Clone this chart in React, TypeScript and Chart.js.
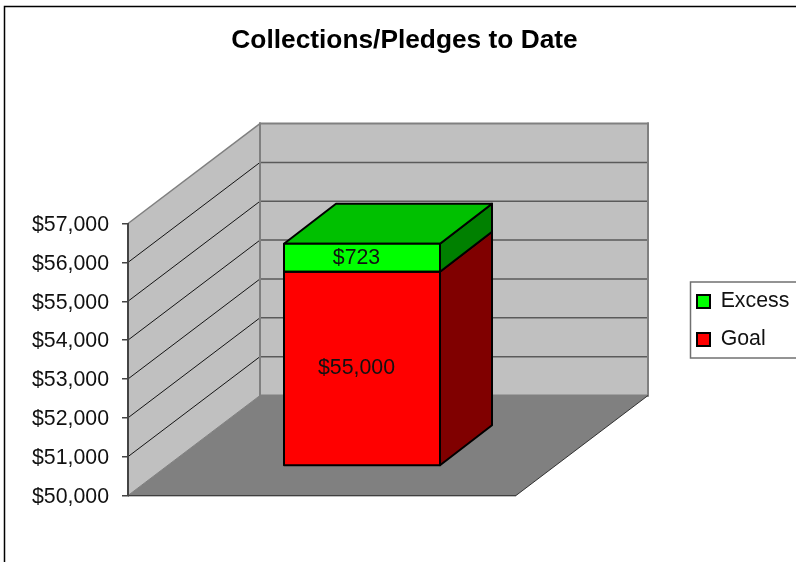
import React, { useEffect, useRef } from "react";
import { Chart, registerables } from "chart.js";

Chart.register(...registerables);

const categories = ["Collections"];
const goalValues = [55000];
const excessValues = [723];
const axisMin = 50000;
const axisMax = 57000;
const axisStep = 1000;
const titleText = "Collections/Pledges to Date";

const FONT = "'Liberation Sans', Arial, sans-serif";
const WALL = { dx: 132, dy: -100 };
const BAR_OFFSET = { dx: 40, dy: -29.5 };
const BAR_DEPTH = { dx: 52, dy: -40 };

const money = (v: number) => "$" + Number(v).toLocaleString("en-US");

function poly(ctx: CanvasRenderingContext2D, pts: number[][], fill: string | null, stroke: string | null, lw = 1) {
  ctx.beginPath();
  pts.forEach((p, i) => (i ? ctx.lineTo(p[0], p[1]) : ctx.moveTo(p[0], p[1])));
  ctx.closePath();
  if (fill) {
    ctx.fillStyle = fill;
    ctx.fill();
  }
  if (stroke) {
    ctx.strokeStyle = stroke;
    ctx.lineWidth = lw;
    ctx.lineJoin = "round";
    ctx.stroke();
  }
}

function line(ctx: CanvasRenderingContext2D, x1: number, y1: number, x2: number, y2: number, color: string, lw: number) {
  ctx.beginPath();
  ctx.moveTo(x1, y1);
  ctx.lineTo(x2, y2);
  ctx.strokeStyle = color;
  ctx.lineWidth = lw;
  ctx.stroke();
}

const scene3d = {
  id: "scene3d",
  afterLayout(chart: any) {
    const lg = chart.legend;
    if (lg) {
      lg.left = 680.3;
      lg.right = 796;
      lg.top = 223;
      lg.bottom = 418;
    }
  },
  beforeDraw(chart: any) {
    const { ctx, chartArea: a, scales } = chart;
    const y = scales.y;
    ctx.save();
    ctx.fillStyle = "#fff";
    ctx.fillRect(0, 0, chart.width, chart.height);
    // outer frame
    ctx.strokeStyle = "#000";
    ctx.lineWidth = 1.5;
    ctx.beginPath();
    ctx.moveTo(4.5, 562);
    ctx.lineTo(4.5, 6.5);
    ctx.lineTo(796, 6.5);
    ctx.stroke();
    // legend frame
    ctx.strokeStyle = "#707070";
    ctx.lineWidth = 1.5;
    ctx.strokeRect(690.5, 282, 110, 76);

    const { left: L, right: R, top: T, bottom: B } = a;
    const { dx, dy } = WALL;
    // back wall + side wall + floor
    poly(ctx, [[L + dx, T + dy], [R + dx, T + dy], [R + dx, B + dy], [L + dx, B + dy]], "#c0c0c0", null);
    poly(ctx, [[L, T], [L + dx, T + dy], [L + dx, B + dy], [L, B]], "#c0c0c0", null);
    poly(ctx, [[L, B], [L + dx, B + dy], [R + dx, B + dy], [R, B]], "#808080", null);
    // gridlines on the walls
    y.ticks.forEach((t: any) => {
      const py = y.getPixelForValue(t.value);
      if (t.value === axisMin || t.value === axisMax) return;
      line(ctx, L, py, L + dx, py + dy, "#000", 0.9);
      line(ctx, L + dx, py + dy, R + dx, py + dy, "#5a5a5a", 1.5);
    });
    // wall edges
    ctx.lineCap = "square";
    line(ctx, L, T, L + dx, T + dy, "#808080", 1.5);
    line(ctx, L + dx, T + dy, R + dx, T + dy, "#808080", 2);
    line(ctx, R + dx, T + dy, R + dx, B + dy, "#808080", 2);
    line(ctx, L + dx, T + dy, L + dx, B + dy, "#808080", 2);
    line(ctx, L + dx, B + dy, R + dx, B + dy, "#808080", 2);
    ctx.lineCap = "butt";
    line(ctx, L, B, L + dx, B + dy, "#808080", 1);
    // floor front edges
    line(ctx, L, B + 0.6, R, B + 0.6, "#aaa", 1.5);
    line(ctx, L, B, R, B, "#222", 0.8);
    line(ctx, R, B, R + dx, B + dy, "#222", 0.9);
    ctx.restore();
  },
  beforeDatasetsDraw(chart: any) {
    const { ctx } = chart;
    const goal = chart.getDatasetMeta(0).data[0];
    const excess = chart.getDatasetMeta(1).data[0];
    const ox = BAR_OFFSET.dx;
    const oy = BAR_OFFSET.dy;
    const { dx, dy } = BAR_DEPTH;
    const xL = goal.x - goal.width / 2 + ox;
    const xR = goal.x + goal.width / 2 + ox;
    const yB = goal.base + oy;
    const yM = goal.y + oy;
    const yT = excess.y + oy;
    poly(ctx, [[xR, yM], [xR + dx, yM + dy], [xR + dx, yB + dy], [xR, yB]], "#800000", "#000", 2);
    poly(ctx, [[xR, yT], [xR + dx, yT + dy], [xR + dx, yM + dy], [xR, yM]], "#008000", "#000", 2);
    poly(ctx, [[xL, yT], [xL + dx, yT + dy], [xR + dx, yT + dy], [xR, yT]], "#00c000", "#000", 2);
    ctx.save();
    ctx.translate(ox, oy);
  },
  afterDatasetsDraw(chart: any) {
    const { ctx } = chart;
    ctx.restore();
    ctx.save();
    // front-face outlines, centred on the bar edges
    chart.data.datasets.forEach((_: any, i: number) => {
      const el = chart.getDatasetMeta(i).data[0];
      ctx.strokeStyle = "#000";
      ctx.lineWidth = 2;
      ctx.strokeRect(
        el.x - el.width / 2 + BAR_OFFSET.dx,
        el.y + BAR_OFFSET.dy,
        el.width,
        el.base - el.y
      );
    });
    ctx.fillStyle = "#111";
    ctx.font = `21.3px ${FONT}`;
    ctx.textAlign = "center";
    ctx.textBaseline = "middle";
    chart.data.datasets.forEach((ds: any, i: number) => {
      const el = chart.getDatasetMeta(i).data[0];
      ctx.fillText(money(ds.data[0]), el.x + BAR_OFFSET.dx - 5.5, (el.y + el.base) / 2 + BAR_OFFSET.dy);
    });
    ctx.restore();
  },
};

export default function App() {
  const ref = useRef<HTMLCanvasElement>(null);
  useEffect(() => {
    const chart = new Chart(ref.current as HTMLCanvasElement, {
      type: "bar",
      data: {
        labels: categories,
        datasets: [
          {
            label: "Goal",
            data: goalValues,
            base: axisMin,
            backgroundColor: "#ff0000",
            borderWidth: 0,
            barThickness: 156,
            clip: false,
          },
          {
            label: "Excess",
            data: excessValues,
            backgroundColor: "#00ff00",
            borderWidth: 0,
            barThickness: 156,
            clip: false,
          },
        ],
      } as any,
      options: {
        responsive: false,
        animation: false,
        devicePixelRatio: 1,
        layout: { padding: { left: 13, right: 0, top: 0, bottom: 66.5 } },
        plugins: {
          tooltip: { enabled: false },
          title: {
            display: true,
            text: titleText,
            color: "#000",
            font: { family: FONT, size: 26.3, weight: "bold" },
            padding: { top: 25, bottom: 167 },
          },
          legend: {
            display: true,
            position: "right",
            reverse: true,
            labels: {
              color: "#111",
              font: { family: FONT, size: 21.3 },
              boxWidth: 13,
              boxHeight: 13,
              padding: 16.7,
              generateLabels: (c: any) =>
                (Chart.defaults.plugins.legend.labels as any)
                  .generateLabels(c)
                  .map((it: any) => ({ ...it, strokeStyle: "#000", lineWidth: 2 })),
            },
          },
        },
        scales: {
          x: { type: "category", display: false, stacked: true, offset: true, grid: { display: false } },
          y: {
            type: "linear",
            position: "left",
            stacked: true,
            min: axisMin,
            max: axisMax,
            ticks: {
              stepSize: axisStep,
              color: "#111",
              padding: 13,
              labelOffset: 1.5,
              font: { family: FONT, size: 21.3 },
              callback: (v: any) => money(v),
            },
            grid: { drawOnChartArea: false, drawTicks: true, tickLength: 6, color: "#444", lineWidth: 1.5 },
            border: { display: true, color: "#444", width: 2 },
            afterFit: (s: any) => {
              s.width = 115;
            },
          },
          spacer: {
            type: "linear",
            position: "right",
            display: true,
            ticks: { display: false },
            grid: { display: false },
            border: { display: false },
            afterFit: (s: any) => {
              s.width = 280 - (s.chart.legend ? s.chart.legend.width : 0);
            },
          },
        },
      } as any,
      plugins: [scene3d],
    });
    return () => chart.destroy();
  }, []);
  return (
    <div style={{ position: "absolute", left: 0, top: 0, width: 796, height: 562, overflow: "hidden", background: "#fff" }}>
      <canvas ref={ref} width={796} height={562} style={{ display: "block" }} />
    </div>
  );
}
